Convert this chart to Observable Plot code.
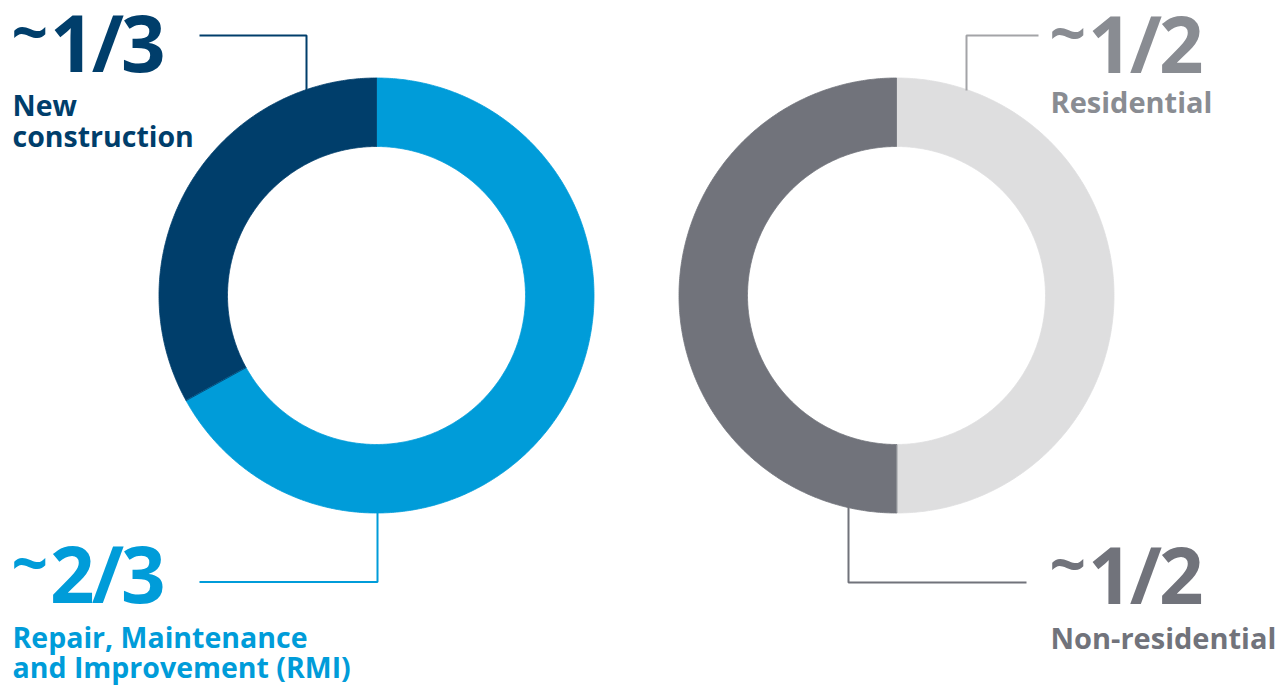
<!DOCTYPE html>
<html>
<head>
<meta charset="utf-8">
<script src="https://cdn.jsdelivr.net/npm/d3@7"></script>
<script src="https://cdn.jsdelivr.net/npm/@observablehq/plot@0.6"></script>
<style>
  html, body { margin: 0; padding: 0; background: #fff; }
  #chart svg { display: block; }
</style>
</head>
<body>
<div id="chart"></div>
<script>
// ---------------- DATA ----------------
// Left donut: type of construction activity (clockwise from 12 o'clock)
const activityCategories = ["Repair, Maintenance and Improvement (RMI)", "New construction"];
const activityShares = [67, 33];
const activityShareLabels = ["~2/3", "~1/3"];
const activityColors = ["#009cd9", "#003e6b"];

// Right donut: type of building (clockwise from 12 o'clock)
const buildingCategories = ["Residential", "Non-residential"];
const buildingShares = [50, 50];
const buildingShareLabels = ["~1/2", "~1/2"];
const buildingColors = ["#dededf", "#71737b"];

// ---------------- LAYOUT ----------------
const W = 1283, H = 688;
const R_OUT = 217.5, R_IN = 149;
const donuts = [
  {cx: 376, cy: 295, cats: activityCategories, vals: activityShares, colors: activityColors},
  {cx: 896, cy: 295, cats: buildingCategories, vals: buildingShares, colors: buildingColors}
];

// ring polygons built from the shares
const slices = [];
donuts.forEach((d, di) => {
  const total = d3.sum(d.vals);
  let acc = 0;
  d.vals.forEach((v, i) => {
    const a0 = acc / total * 2 * Math.PI, a1 = (acc + v) / total * 2 * Math.PI;
    acc += v;
    const n = Math.max(2, Math.ceil((a1 - a0) / (Math.PI / 360)));
    const key = di + ":" + d.cats[i];
    for (let k = 0; k <= n; k++) {
      const a = a0 + (a1 - a0) * k / n;
      slices.push({key, fill: d.colors[i], x: d.cx + R_OUT * Math.sin(a), y: d.cy - R_OUT * Math.cos(a)});
    }
    for (let k = n; k >= 0; k--) {
      const a = a0 + (a1 - a0) * k / n;
      slices.push({key, fill: d.colors[i], x: d.cx + R_IN * Math.sin(a), y: d.cy - R_IN * Math.cos(a)});
    }
  });
});

// labels and leader lines (layout)
const labelSpec = [
  {cat: "New construction", big: activityShareLabels[1], text: "New\nconstruction", color: "#003e6b",
   x: 12, bigY: 71.5, textY: 146.5, textSize: 28.5, lh: 1.09, lead: {d: 0, vx: 306, hy: 35, ex: 199}, leadColor: "#003e6b"},
  {cat: "RMI", big: activityShareLabels[0], text: "Repair, Maintenance\nand Improvement (RMI)", color: "#009cd9",
   x: 12, bigY: 602, textY: 677.5, textSize: 28.5, lh: 1.07, lead: {d: 0, vx: 377, hy: 581.5, ex: 199}, leadColor: "#009cd9"},
  {cat: "Residential", big: buildingShareLabels[0], text: "Residential", color: "#898c92",
   x: 1050, bigY: 72, textY: 112, textSize: 29, lh: 1.1, lead: {d: 1, vx: 966, hy: 35, ex: 1038}, leadColor: "#a3a4a7"},
  {cat: "Non-residential", big: buildingShareLabels[1], text: "Non-residential", color: "#71737b",
   x: 1050, bigY: 603, textY: 648, textSize: 29, lh: 1.1, lead: {d: 1, vx: 848, hy: 582, ex: 1026}, leadColor: "#71737b"}
];

const leaders = [];
labelSpec.forEach((s, i) => {
  const d = donuts[s.lead.d];
  const dx = s.lead.vx - d.cx;
  const dyc = Math.sqrt(R_OUT * R_OUT - dx * dx);
  const yc = s.lead.hy < d.cy ? d.cy - dyc + 1 : d.cy + dyc - 1;
  leaders.push({k: i, c: s.leadColor, x: s.lead.vx, y: yc});
  leaders.push({k: i, c: s.leadColor, x: s.lead.vx, y: s.lead.hy});
  leaders.push({k: i, c: s.leadColor, x: s.lead.ex, y: s.lead.hy});
});

const chart = Plot.plot({
  width: W,
  height: H,
  margin: 0,
  x: {domain: [0, W], range: [0, W], axis: null},
  y: {domain: [0, H], range: [0, H], axis: null},
  color: {type: "identity"},
  style: {background: "#fff", fontFamily: "'Open Sans', Lato, sans-serif", overflow: "visible"},
  marks: [
    Plot.line(slices, {x: "x", y: "y", z: "key", fill: "fill", stroke: "fill", strokeWidth: 0.8, curve: "linear-closed"}),
    Plot.line(leaders, {x: "x", y: "y", z: "k", stroke: "c", strokeWidth: 2, strokeLinejoin: "miter", strokeLinecap: "butt"}),
    Plot.text(labelSpec, {x: "x", y: "bigY", text: "big", fill: "color", textAnchor: "start", lineAnchor: "bottom",
      fontSize: 78, fontWeight: 700}),
    ...labelSpec.map(s => Plot.text([s], {x: "x", y: "textY", text: "text", fill: "color", textAnchor: "start",
      lineAnchor: "bottom", fontSize: s.textSize, fontWeight: 700, lineHeight: s.lh}))
  ]
});

// raise the tilde like in the original typography (text stays "~1/3" etc.)
d3.select(chart).selectAll("text").each(function () {
  const t = d3.select(this);
  if (this.querySelector("tspan")) return;
  const s = this.textContent;
  if (s && s[0] === "~") {
    t.text(null);
    t.append("tspan").attr("font-size", 64).attr("dy", -17).attr("dx", -1).text("~");
    t.append("tspan").attr("dy", 17).attr("dx", 2).attr("letter-spacing", -3).text(s.slice(1));
  }
});

document.getElementById("chart").appendChild(chart);
</script>
</body>
</html>
